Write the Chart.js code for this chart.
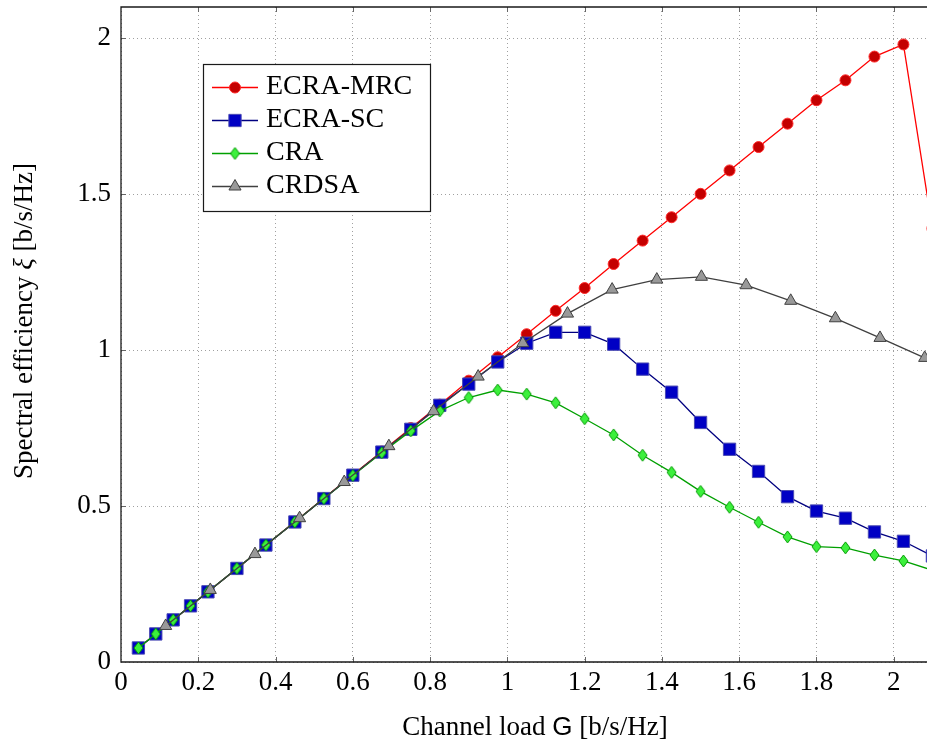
<!DOCTYPE html>
<html>
<head>
<meta charset="utf-8">
<script src="https://cdn.jsdelivr.net/npm/chart.js@4.4.1/dist/chart.umd.min.js"></script>
<style>
  html, body { margin: 0; padding: 0; background: #fff; }
</style>
</head>
<body>
<canvas id="c" width="927" height="744"></canvas>
<script>
// channel load G (shared by ECRA-MRC, ECRA-SC, CRA)
const loadG = [0.045, 0.09, 0.135, 0.18, 0.225, 0.3, 0.375, 0.45, 0.525, 0.6, 0.675, 0.75, 0.825, 0.9, 0.975,
  1.05, 1.125, 1.2, 1.275, 1.35, 1.425, 1.5, 1.575, 1.65, 1.725, 1.8, 1.875, 1.95, 2.025, 2.1];
const mrcEff = [0.045, 0.09, 0.135, 0.18, 0.225, 0.3, 0.375, 0.45, 0.525, 0.6, 0.675, 0.75, 0.825, 0.902, 0.977,
  1.051, 1.126, 1.199, 1.276, 1.351, 1.426, 1.501, 1.576, 1.651, 1.726, 1.801, 1.865, 1.941, 1.98, 1.39];
const scEff = [0.045, 0.09, 0.135, 0.18, 0.225, 0.3, 0.375, 0.449, 0.524, 0.599, 0.673, 0.746, 0.823, 0.891, 0.962,
  1.022, 1.057, 1.057, 1.019, 0.939, 0.865, 0.768, 0.682, 0.611, 0.53, 0.484, 0.461, 0.417, 0.387, 0.34];
const craEff = [0.045, 0.09, 0.135, 0.18, 0.225, 0.3, 0.375, 0.449, 0.524, 0.598, 0.671, 0.741, 0.805, 0.848, 0.872,
  0.859, 0.831, 0.78, 0.728, 0.663, 0.608, 0.547, 0.496, 0.448, 0.401, 0.37, 0.366, 0.343, 0.324, 0.294];
// CRDSA is sampled on its own grid
const crdsaLoad = [0.1156, 0.2311, 0.3467, 0.4622, 0.5778, 0.6933, 0.8089, 0.9244, 1.04, 1.1556, 1.2711, 1.3867,
  1.5022, 1.6178, 1.7333, 1.8489, 1.9644, 2.08];
const crdsaEff = [0.1156, 0.231, 0.346, 0.461, 0.577, 0.692, 0.804, 0.915, 1.022, 1.117, 1.194, 1.226,
  1.235, 1.208, 1.158, 1.102, 1.039, 0.975];

const seriesNames = ['ECRA-MRC', 'ECRA-SC', 'CRA', 'CRDSA'];
const xTicks = [0, 0.2, 0.4, 0.6, 0.8, 1, 1.2, 1.4, 1.6, 1.8, 2];
const yTicks = [0, 0.5, 1, 1.5, 2];

const serif = "'Liberation Serif', 'Times New Roman', serif";
const sans = "'Liberation Sans', Arial, sans-serif";

function pts(xs, ys) {
  return xs.map((x, i) => ({ x: x, y: ys[i] }));
}

// pgfplots style diamond (taller than wide)
function diamondMark(w, h, fill, stroke) {
  const c = document.createElement('canvas');
  c.width = w + 2; c.height = h + 2;
  const g = c.getContext('2d');
  g.beginPath();
  g.moveTo(c.width / 2, 1);
  g.lineTo(c.width - 1, c.height / 2);
  g.lineTo(c.width / 2, c.height - 1);
  g.lineTo(1, c.height / 2);
  g.closePath();
  g.fillStyle = fill; g.fill();
  g.strokeStyle = stroke; g.lineWidth = 1; g.stroke();
  return c;
}
const diamond = diamondMark(9, 12, '#3cf03c', '#009a00');

function drawSegments(ctx, segs, cx, baseY) {
  let total = 0;
  segs.forEach(s => { ctx.font = s[1]; s.w = ctx.measureText(s[0]).width; total += s.w; });
  let x = cx - total / 2;
  ctx.textAlign = 'left';
  ctx.textBaseline = 'alphabetic';
  segs.forEach(s => { ctx.font = s[1]; ctx.fillText(s[0], x, baseY); x += s.w; });
}

const decor = {
  id: 'decor',
  afterDraw(chart) {
    const { ctx, chartArea: a, scales } = chart;
    ctx.save();
    const line = (x1, y1, x2, y2) => { ctx.beginPath(); ctx.moveTo(x1, y1); ctx.lineTo(x2, y2); ctx.stroke(); };

    // inward tick marks
    ctx.strokeStyle = '#666'; ctx.lineWidth = 1;
    xTicks.forEach(v => {
      if (!v) return;
      const px = Math.round(scales.x.getPixelForValue(v)) + 0.5;
      line(px, a.bottom, px, a.bottom - 5);
      line(px, a.top, px, a.top + 5);
    });
    yTicks.forEach(v => {
      if (!v) return;
      const py = Math.round(scales.y.getPixelForValue(v)) + 0.5;
      line(a.left, py, a.left + 5, py);
    });

    // tick labels
    ctx.fillStyle = '#000';
    ctx.font = '27px ' + serif;
    ctx.textAlign = 'center'; ctx.textBaseline = 'middle';
    xTicks.forEach(v => ctx.fillText(String(v), scales.x.getPixelForValue(v), a.bottom + 21));
    ctx.textAlign = 'right';
    yTicks.forEach(v => ctx.fillText(String(v), a.left - 10, scales.y.getPixelForValue(v)));

    // frame (right side is cut off in the original)
    ctx.strokeStyle = '#1a1a1a'; ctx.lineWidth = 1.3;
    ctx.beginPath();
    ctx.moveTo(a.right + 2, a.top); ctx.lineTo(a.left, a.top);
    ctx.lineTo(a.left, a.bottom); ctx.lineTo(a.right + 2, a.bottom);
    ctx.stroke();

    // legend box
    const bx = 203.5, by = 64.5, bw = 227, bh = 147;
    ctx.fillStyle = '#fff';
    ctx.fillRect(bx, by, bw, bh);
    ctx.strokeStyle = '#1a1a1a'; ctx.lineWidth = 1.2;
    ctx.strokeRect(bx, by, bw, bh);
    chart.data.datasets.forEach((ds, i) => {
      const yy = 87.5 + i * 33;
      ctx.strokeStyle = ds.borderColor; ctx.lineWidth = ds.borderWidth;
      line(212, yy, 258, yy);
      ctx.fillStyle = ds.pointBackgroundColor;
      ctx.strokeStyle = ds.pointBorderColor;
      ctx.lineWidth = ds.pointBorderWidth;
      Chart.helpers.drawPoint(ctx, { pointStyle: ds.pointStyle, radius: ds.pointRadius, borderWidth: ds.pointBorderWidth, rotation: 0 }, 235, yy);
      ctx.fillStyle = '#000';
      ctx.font = '28px ' + serif;
      ctx.textAlign = 'left'; ctx.textBaseline = 'middle';
      ctx.fillText(ds.label, 266, yy - 1);
    });

    // axis titles
    ctx.fillStyle = '#000';
    drawSegments(ctx, [['Channel load ', '27px ' + serif], ['G', '26px ' + sans], [' [b/s/Hz]', '27px ' + serif]], 535, 735);
    ctx.translate(32, 321);
    ctx.rotate(-Math.PI / 2);
    drawSegments(ctx, [['Spectral efficiency ', '27px ' + serif], ['ξ', 'italic 27px ' + serif], [' [b/s/Hz]', '27px ' + serif]], 0, 0);
    ctx.restore();
  }
};

const ctx = document.getElementById('c').getContext('2d');
new Chart(ctx, {
  type: 'line',
  data: {
    datasets: [
      {
        label: seriesNames[0], data: pts(loadG, mrcEff),
        borderColor: '#ff0000', borderWidth: 1.3,
        pointStyle: 'circle', pointRadius: 5.5, pointBorderWidth: 1,
        pointBackgroundColor: '#c40000', pointBorderColor: '#ff2a2a', order: 4
      },
      {
        label: seriesNames[1], data: pts(loadG, scEff),
        borderColor: '#000080', borderWidth: 1.3,
        pointStyle: 'rect', pointRadius: 8.7, pointBorderWidth: 1,
        pointBackgroundColor: '#0000c4', pointBorderColor: '#4a4ab4', order: 3
      },
      {
        label: seriesNames[2], data: pts(loadG, craEff),
        borderColor: '#00a000', borderWidth: 1.3,
        pointStyle: diamond, pointRadius: 6, pointBorderWidth: 1,
        pointBackgroundColor: '#3cf03c', pointBorderColor: '#009a00', order: 2
      },
      {
        label: seriesNames[3], data: pts(crdsaLoad, crdsaEff),
        borderColor: '#404040', borderWidth: 1.3,
        pointStyle: 'triangle', pointRadius: 7, pointBorderWidth: 1,
        pointBackgroundColor: '#999999', pointBorderColor: '#404040', order: 1
      }
    ]
  },
  options: {
    responsive: false,
    animation: false,
    devicePixelRatio: 1,
    layout: { autoPadding: false, padding: { top: 7, left: 0, right: 0, bottom: 0 } },
    plugins: { legend: { display: false }, tooltip: { enabled: false } },
    scales: {
      x: {
        type: 'linear', min: 0, max: 2.086,
        afterBuildTicks: s => { s.ticks = xTicks.map(v => ({ value: v })); },
        afterFit: s => { s.height = 82; },
        ticks: { display: false },
        grid: { color: '#a0a0a0', lineWidth: 1, drawTicks: false },
        border: { display: false, dash: [1, 3] }
      },
      y: {
        type: 'linear', min: 0, max: 2.1,
        afterBuildTicks: s => { s.ticks = yTicks.map(v => ({ value: v })); },
        afterFit: s => { s.width = 121; },
        ticks: { display: false },
        grid: { color: '#a0a0a0', lineWidth: 1, drawTicks: false },
        border: { display: false, dash: [1, 3] }
      }
    }
  },
  plugins: [decor]
});
</script>
</body>
</html>
